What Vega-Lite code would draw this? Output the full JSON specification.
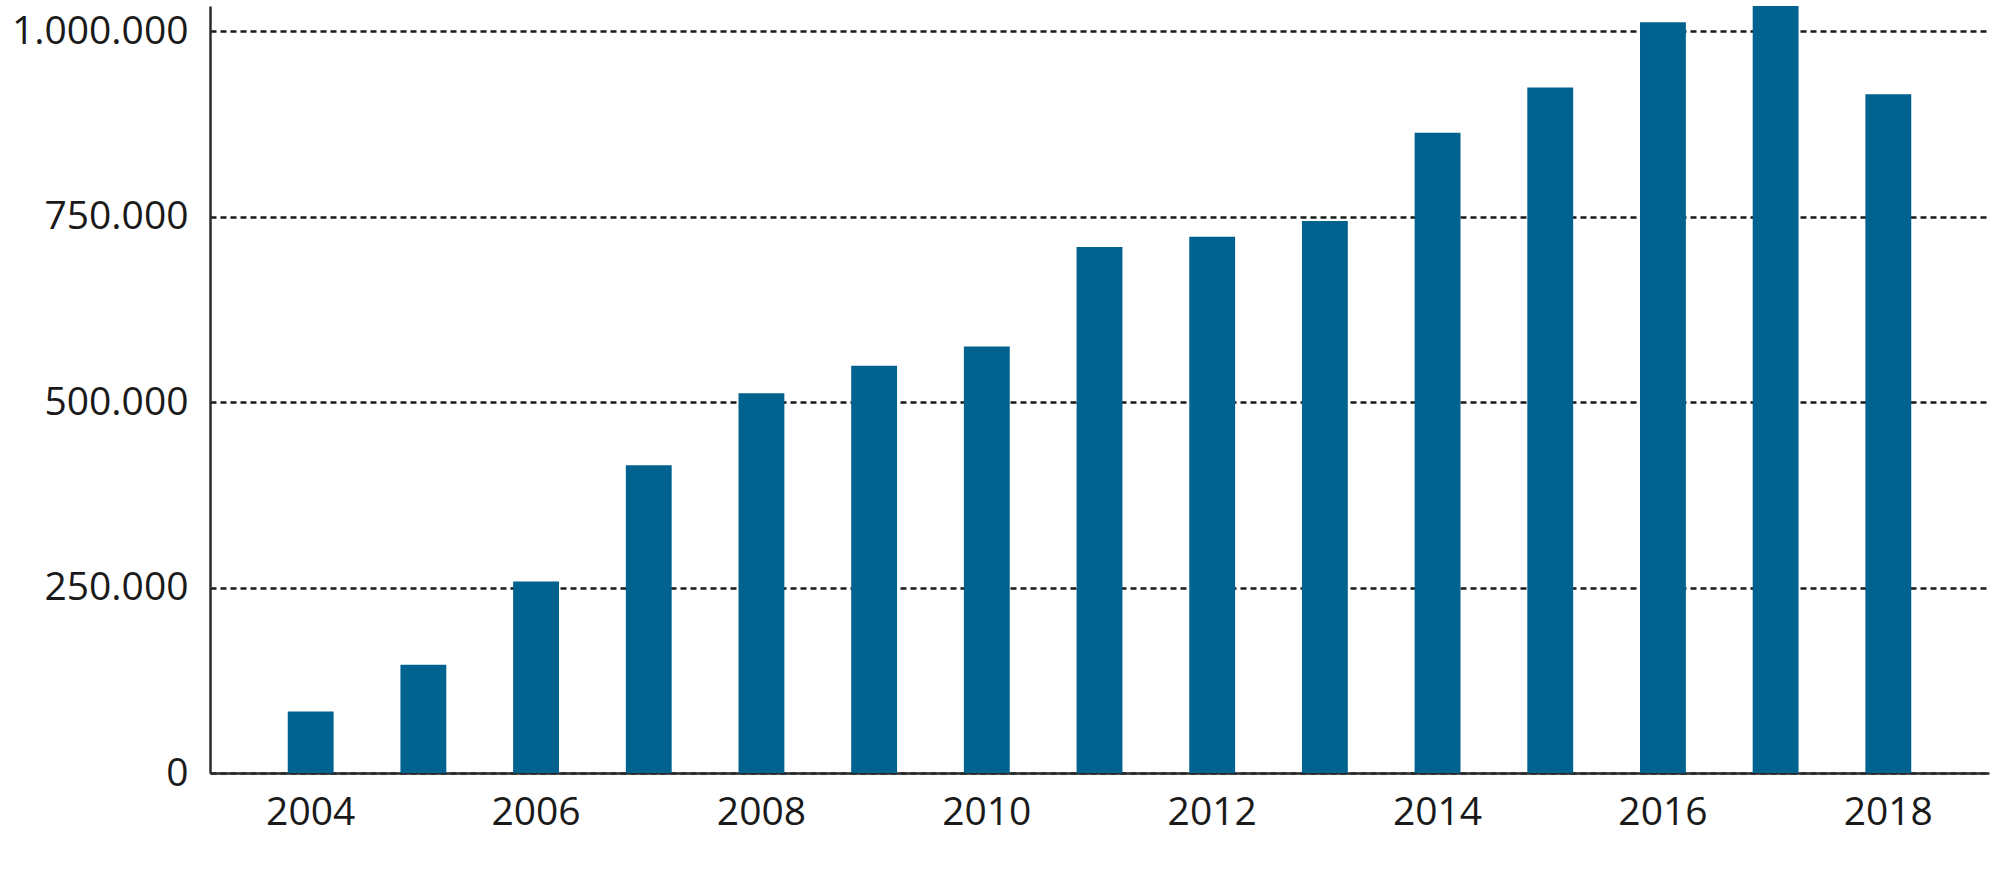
{
  "$schema": "https://vega.github.io/schema/vega-lite/v6.json",
  "autosize": {"type": "none"},
  "width": 1779,
  "height": 767,
  "padding": {"left": 210, "top": 6, "right": 11, "bottom": 107},
  "background": "white",
  "config": {
    "locale": {
      "number": {"decimal": ",", "thousands": ".", "grouping": [3], "currency": ["", " €"]}
    },
    "view": {"stroke": null},
    "font": "Open Sans",
    "axis": {
      "labelFont": "Open Sans",
      "labelFontSize": 39,
      "labelColor": "#1a1a1a",
      "domainColor": "#2b2b2b",
      "domainWidth": 2.5,
      "ticks": false,
      "title": null
    }
  },
  "data": {
    "values": [
      {"year": "2004", "count": 83000},
      {"year": "2005", "count": 146000},
      {"year": "2006", "count": 258000},
      {"year": "2007", "count": 415000},
      {"year": "2008", "count": 512000},
      {"year": "2009", "count": 549000},
      {"year": "2010", "count": 575000},
      {"year": "2011", "count": 709000},
      {"year": "2012", "count": 723000},
      {"year": "2013", "count": 744000},
      {"year": "2014", "count": 863000},
      {"year": "2015", "count": 924000},
      {"year": "2016", "count": 1012000},
      {"year": "2017", "count": 1034000},
      {"year": "2018", "count": 915000}
    ]
  },
  "mark": {"type": "bar", "color": "#00628f"},
  "encoding": {
    "x": {
      "field": "year",
      "type": "ordinal",
      "scale": {"paddingInner": 0.593, "paddingOuter": 0.69},
      "axis": {
        "labelAngle": 0,
        "values": ["2004", "2006", "2008", "2010", "2012", "2014", "2016", "2018"],
        "labelPadding": 20,
        "grid": false
      }
    },
    "y": {
      "field": "count",
      "type": "quantitative",
      "scale": {"domain": [0, 1034000], "nice": false},
      "axis": {
        "values": [0, 250000, 500000, 750000, 1000000],
        "format": ",d",
        "labelPadding": 22,
        "grid": true,
        "gridColor": "#1a1a1a",
        "gridWidth": 2.7,
        "gridDash": [6, 4],
        "gridOpacity": 1
      }
    }
  }
}
